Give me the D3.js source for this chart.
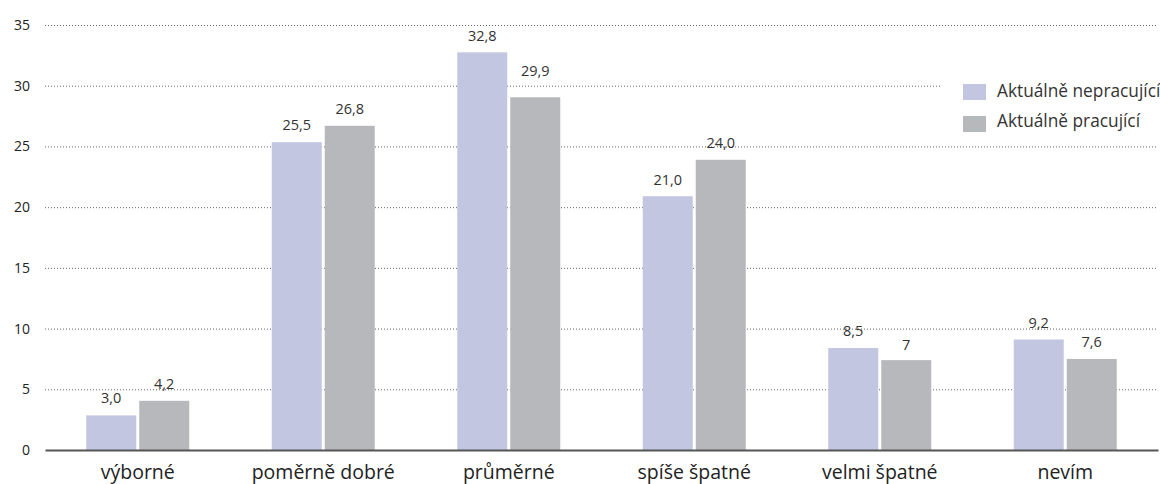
<!DOCTYPE html>
<html><head><meta charset="utf-8">
<script src="https://cdn.jsdelivr.net/npm/d3@7"></script>
<style>body{margin:0;background:#fff}svg{display:block;font-family:"Open Sans",sans-serif}</style>
</head><body>
<svg id="c" width="1160" height="484"></svg>
<script>
const categories = ["výborné","poměrně dobré","průměrné","spíše špatné","velmi špatné","nevím"];
const seriesNames = ["Aktuálně nepracující","Aktuálně pracující"];
// bar heights as drawn in the picture
const nepracujici = [2.85,25.35,32.75,20.9,8.4,9.1];
const pracujici = [4.05,26.7,29.05,23.9,7.4,7.5];
// printed data labels
const labelsNep = ["3,0","25,5","32,8","21,0","8,5","9,2"];
const labelsPrac = ["4,2","26,8","29,9","24,0","7","7,6"];
const yTicks = [0,5,10,15,20,25,30,35];
const colors = ["#c3c6e1","#b7b8bb"];

(function(){
const svg = d3.select("#c");
const mLeft = 45, mRight = 1158, mTop = 25, mBottom = 450;
const x = d3.scaleBand().domain(categories).range([mLeft,mRight]).paddingInner(0).paddingOuter(0);
const y = d3.scaleLinear().domain([0,35]).range([mBottom,mTop]);

// grid
const grid = svg.append("g");
grid.selectAll("line").data(yTicks.filter(d=>d>0)).join("line")
  .attr("x1",mLeft).attr("x2",mRight).attr("y1",d=>y(d)+0.5).attr("y2",d=>y(d)+0.5)
  .attr("stroke","#666").attr("stroke-width",1).attr("stroke-dasharray","1,2");

// y tick labels
const yAxis = d3.axisLeft(y).tickValues(yTicks).tickSize(0).tickPadding(0).tickFormat(d3.format("d"));
const ya = svg.append("g").attr("transform",`translate(30,0)`).call(yAxis);
ya.select(".domain").remove();
ya.selectAll("text").attr("font-size",14).attr("fill","#222").attr("font-family","'Open Sans',sans-serif");

const bw = 50, gap = 3;
const series = [nepracujici, pracujici];
const labels = [labelsNep, labelsPrac];
const parse = s => +s.replace(",",".");
series.forEach((vals,si)=>{
  const g = svg.append("g");
  const xoff = si===0 ? -(bw+gap/2) : gap/2;
  g.selectAll("rect").data(vals).join("rect")
    .attr("x",(d,i)=>x(categories[i])+x.bandwidth()/2+xoff)
    .attr("width",bw)
    .attr("y",d=>y(d)).attr("height",d=>mBottom-y(d))
    .attr("fill",colors[si]);
  g.selectAll("text").data(vals).join("text")
    .attr("x",(d,i)=>x(categories[i])+x.bandwidth()/2+xoff+bw/2)
    .attr("y",(d,i)=>y(Math.max(d,parse(labels[si][i])))-10.5)
    .attr("text-anchor","middle").attr("font-size",14.5).attr("fill","#333")
    .text((d,i)=>labels[si][i]);
});

// x axis
const xAxis = d3.axisBottom(x).tickSize(0).tickPadding(0);
const xa = svg.append("g").attr("transform",`translate(0,${mBottom})`).call(xAxis);
xa.select(".domain").attr("stroke","#555").attr("stroke-width",2);
xa.selectAll("text").attr("font-size",19.5).attr("fill","#222").attr("font-family","'Open Sans',sans-serif").attr("y",29).attr("dy",0);

// legend
const lg = svg.append("g");
lg.append("rect").attr("x",940).attr("y",68).attr("width",220).attr("height",72).attr("fill","#fff");
seriesNames.forEach((n,i)=>{
  lg.append("rect").attr("x",963).attr("y",84+i*32).attr("width",23).attr("height",16).attr("fill",colors[i]);
  lg.append("text").attr("x",997).attr("y",97+i*30).attr("font-size",17.3).attr("fill","#333").text(n);
});
})();
</script>
</body></html>
